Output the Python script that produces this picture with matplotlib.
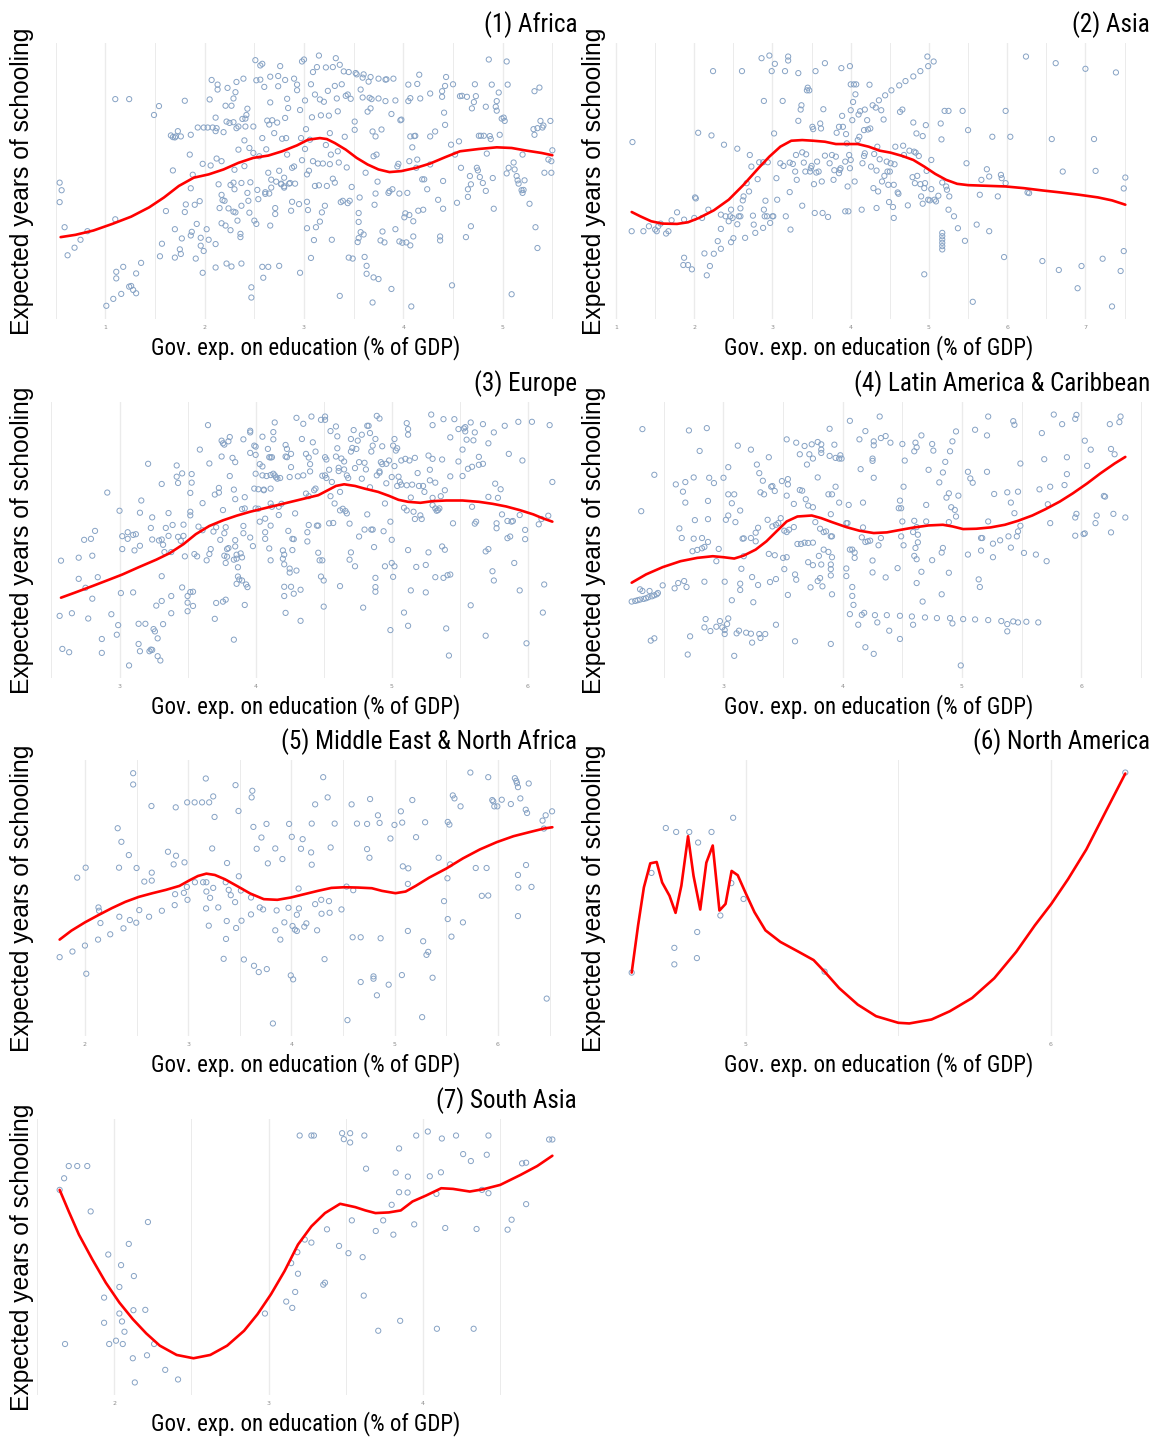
import matplotlib
matplotlib.use("Agg")
import matplotlib.pyplot as plt
from matplotlib import font_manager
from matplotlib.font_manager import FontProperties
from matplotlib.ticker import MultipleLocator, FormatStrFormatter

# ---------------------------------------------------------------
# Country-year observations: (gov. exp. on education % of GDP,
# expected years of schooling) and the loess fit for each region
# ---------------------------------------------------------------
africa_pts = [
    (0.54,13.1),(0.56,12.64),(0.54,11.92),(0.59,10.4),(0.62,8.7),(0.69,9.16),(0.75,9.64),(0.82,10.16),
    (1.01,5.64),(1.08,6.06),(1.11,7.7),(1.11,7.3),(1.16,6.36),(1.18,8.0),(1.24,6.8),(1.26,6.84),
    (1.28,6.6),(1.31,6.4),(1.31,7.6),(1.36,8.24),(1.10,18.16),(1.24,18.16),(1.10,10.88),(1.49,17.2),
    (1.54,17.74),(1.55,8.64),(1.57,9.4),(1.61,11.38),(1.66,15.96),(1.68,15.86),(1.70,15.84),(1.71,15.9),
    (1.73,16.22),(1.76,15.9),(1.68,13.84),(1.70,8.56),(1.70,10.28),(1.75,9.06),(1.76,8.78),(1.77,9.72),
    (1.80,11.32),(1.81,11.78),(1.80,18.06),(1.86,16.0),(1.85,14.8),(1.86,12.76),(1.86,9.9),(1.87,10.12),
    (1.88,13.58),(1.90,11.76),(1.91,8.5),(1.92,10.6),(1.95,11.98),(1.96,9.28),(1.96,9.76),(1.98,7.64),
    (1.99,8.96),(1.98,14.24),(1.93,16.44),(1.99,16.44),(2.03,16.44),(2.04,9.64),(2.02,10.28),(2.05,18.14),
    (2.07,19.32),(2.06,14.14),(2.08,16.44),(2.11,9.38),(2.11,7.96),(2.11,17.04),(2.13,19.04),(2.13,18.74),
    (2.11,16.22),(2.12,14.56),(2.12,16.4),(2.14,13.0),(2.15,11.56),(2.17,12.36),(2.17,14.4),(2.17,10.64),
    (2.18,12.04),(2.19,16.16),(2.20,12.0),(2.21,10.5),(2.21,17.76),(2.22,16.8),(2.22,8.2),(2.23,18.84),
    (2.24,11.54),(2.25,16.72),(2.26,10.22),(2.26,12.96),(2.27,17.76),(2.27,8.02),(2.29,11.34),(2.29,16.76),
    (2.29,18.2),(2.29,13.1),(2.30,13.88),(2.30,12.7),(2.31,11.3),(2.31,18.58),(2.32,19.2),(2.32,16.4),
    (2.33,10.8),(2.34,16.5),(2.34,15.1),(2.36,9.8),(2.36,10.0),(2.37,11.7),(2.37,8.2),(2.37,13.08),
    (2.38,16.96),(2.39,19.4),(2.40,15.66),(2.40,14.1),(2.41,16.98),(2.41,16.5),(2.42,17.2),(2.43,17.58),
    (2.43,12.48),(2.44,12.0),(2.45,11.28),(2.45,15.2),(2.46,13.12),(2.47,6.76),(2.47,6.14),(2.49,14.9),
    (2.49,16.5),(2.50,10.8),(2.51,20.52),(2.52,19.3),(2.52,10.6),(2.53,12.66),(2.54,12.1),(2.55,14.7),
    (2.56,20.2),(2.56,19.34),(2.58,20.3),(2.58,8.0),(2.58,15.8),(2.59,7.34),(2.60,18.9),(2.61,12.52),
    (2.61,12.42),(2.62,15.12),(2.63,16.86),(2.64,8.0),(2.64,13.7),(2.65,12.44),(2.65,16.62),(2.66,19.52),
    (2.66,10.5),(2.66,17.96),(2.67,13.28),(2.67,12.8),(2.68,16.88),(2.70,16.1),(2.71,11.56),(2.71,11.2),
    (2.72,13.16),(2.73,16.74),(2.74,18.94),(2.74,19.56),(2.75,13.82),(2.75,8.06),(2.76,20.16),(2.77,13.0),
    (2.77,13.04),(2.78,15.76),(2.80,12.88),(2.80,13.4),(2.80,12.8),(2.81,17.02),(2.81,19.32),(2.82,15.8),
    (2.83,18.18),(2.83,14.8),(2.84,17.62),(2.85,13.04),(2.86,13.08),(2.87,11.4),(2.88,14.0),(2.88,11.94),
    (2.90,14.08),(2.90,19.4),(2.91,13.04),(2.93,18.7),(2.93,19.04),(2.95,11.8),(2.96,7.64),(2.96,17.5),
    (2.97,15.8),(2.98,14.46),(2.98,20.44),(3.00,20.56),(3.01,15.14),(3.01,18.08),(3.02,16.34),(3.03,13.6),
    (3.03,10.34),(3.03,11.94),(3.04,11.44),(3.05,13.82),(3.06,15.7),(3.07,19.06),(3.07,8.54),(3.08,17.06),
    (3.09,14.4),(3.09,19.8),(3.10,9.62),(3.11,18.44),(3.11,12.9),(3.12,10.4),(3.13,20.1),(3.14,14.26),
    (3.15,20.8),(3.15,12.94),(3.16,18.14),(3.16,10.74),(3.17,17.18),(3.18,11.3),(3.19,14.26),(3.20,18.0),
    (3.21,11.7),(3.22,20.08),(3.22,15.38),(3.23,12.9),(3.24,18.66),(3.25,17.16),(3.26,14.22),(3.26,16.1),
    (3.27,14.8),(3.28,9.64),(3.29,20.1),(3.29,13.34),(3.31,18.96),(3.31,13.1),(3.32,20.64),(3.33,18.2),
    (3.34,15.0),(3.34,17.42),(3.35,14.32),(3.36,20.24),(3.36,6.24),(3.37,11.92),(3.38,19.06),(3.39,12.0),
    (3.40,19.84),(3.41,15.88),(3.42,18.36),(3.43,14.02),(3.44,18.44),(3.44,11.86),(3.45,8.56),(3.45,19.8),
    (3.46,12.0),(3.47,18.18),(3.48,12.84),(3.49,8.5),(3.51,16.8),(3.51,16.3),(3.52,19.74),(3.53,19.66),
    (3.54,9.5),(3.55,11.26),(3.55,10.72),(3.55,9.74),(3.56,12.2),(3.57,10.1),(3.57,18.74),(3.59,18.26),
    (3.59,19.46),(3.60,9.96),(3.60,19.66),(3.61,8.6),(3.62,13.7),(3.63,8.06),(3.63,7.58),(3.64,17.4),
    (3.65,19.22),(3.66,18.24),(3.67,17.6),(3.67,19.5),(3.68,18.16),(3.69,5.84),(3.69,16.2),(3.70,14.7),
    (3.70,7.36),(3.71,11.76),(3.72,15.9),(3.72,12.44),(3.73,14.8),(3.74,13.16),(3.75,7.26),(3.75,19.4),
    (3.75,18.2),(3.77,9.6),(3.78,16.32),(3.79,10.14),(3.81,9.48),(3.82,18.04),(3.82,19.34),(3.83,19.36),
    (3.85,12.48),(3.86,12.58),(3.88,17.26),(3.88,6.66),(3.89,12.7),(3.90,19.4),(3.92,18.08),(3.92,10.28),
    (3.94,14.08),(3.95,14.24),(3.96,9.54),(3.96,12.44),(3.97,16.88),(3.98,16.92),(3.99,9.46),(4.01,11.0),
    (4.02,11.24),(4.03,9.48),(4.04,12.48),(4.05,18.04),(4.05,19.04),(4.06,14.4),(4.06,11.14),(4.07,18.22),
    (4.07,9.3),(4.07,15.9),(4.08,5.6),(4.09,15.24),(4.10,10.76),(4.10,9.84),(4.11,15.92),(4.12,15.94),
    (4.13,14.0),(4.14,19.08),(4.14,14.5),(4.15,11.4),(4.16,19.64),(4.17,18.2),(4.19,13.3),(4.20,11.46),
    (4.21,13.3),(4.24,12.7),(4.27,15.9),(4.27,18.5),(4.27,14.2),(4.32,16.2),(4.35,12.06),(4.37,9.6),
    (4.37,9.84),(4.39,18.64),(4.39,18.3),(4.40,11.52),(4.40,13.2),(4.41,17.34),(4.42,16.6),(4.42,18.96),
    (4.43,19.5),(4.48,15.4),(4.49,6.88),(4.50,19.06),(4.52,14.8),(4.54,11.88),(4.56,15.6),(4.57,18.34),
    (4.58,14.0),(4.59,18.36),(4.63,9.8),(4.64,18.3),(4.65,12.7),(4.65,12.24),(4.67,13.5),(4.68,13.0),
    (4.68,10.46),(4.69,17.6),(4.71,17.98),(4.72,19.06),(4.73,18.34),(4.74,14.0),(4.75,13.84),(4.76,15.94),
    (4.77,13.44),(4.78,15.94),(4.80,13.08),(4.81,15.94),(4.83,12.6),(4.83,17.7),(4.84,14.86),(4.86,20.56),
    (4.87,15.92),(4.88,15.74),(4.89,19.04),(4.90,13.38),(4.91,11.52),(4.93,17.7),(4.94,17.46),(4.94,18.04),
    (4.96,18.56),(4.97,16.0),(4.99,16.98),(5.01,17.04),(5.02,16.84),(5.04,20.44),(5.05,19.04),(5.04,13.66),
    (5.06,14.0),(5.09,6.34),(5.11,14.32),(5.12,13.9),(5.14,13.5),(5.15,13.24),(5.16,13.04),(5.19,12.64),
    (5.20,12.48),(5.20,14.8),(5.21,12.66),(5.22,13.24),(5.27,11.82),(5.31,16.34),(5.32,16.0),(5.32,18.64),
    (5.33,10.4),(5.35,16.4),(5.35,9.14),(5.37,18.86),(5.38,16.84),(5.40,16.44),(5.41,16.56),(5.42,13.7),
    (5.46,14.5),(5.48,16.84),(5.49,14.4),(5.50,15.06),(5.49,13.7),
]
africa_fit = [
    (0.55,9.8),(0.70,9.94),(0.88,10.2),(1.07,10.6),(1.26,11.04),(1.44,11.6),(1.59,12.2),(1.74,12.9),
    (1.89,13.4),(2.04,13.6),(2.19,13.9),(2.34,14.3),(2.49,14.6),(2.64,14.74),(2.78,15.0),(2.93,15.36),
    (3.04,15.7),(3.16,15.8),(3.23,15.74),(3.31,15.5),(3.42,15.1),(3.53,14.6),(3.64,14.2),(3.75,13.9),
    (3.86,13.74),(3.98,13.8),(4.13,14.0),(4.27,14.26),(4.42,14.64),(4.57,15.0),(4.76,15.14),(4.94,15.24),
    (5.09,15.2),(5.24,15.04),(5.39,14.9),(5.50,14.76),
]

asia_pts = [
    (1.21,15.48),(1.20,10.1),(1.35,10.1),(1.42,10.4),(1.50,10.2),(1.52,10.1),(1.54,10.4),(1.57,10.56),
    (1.64,9.96),(1.67,10.1),(1.71,10.76),(1.78,11.24),(1.87,8.5),(1.86,8.06),(1.92,8.06),(1.97,7.8),
    (1.87,10.8),(2.00,10.9),(2.01,12.14),(2.02,12.08),(2.05,16.04),(2.10,10.9),(2.13,8.76),(2.18,11.4),
    (2.20,8.0),(2.16,7.44),(2.22,15.88),(2.24,19.76),(2.25,8.74),(2.30,9.5),(2.34,10.24),(2.34,9.04),
    (2.34,11.1),(2.38,15.32),(2.40,11.0),(2.44,10.7),(2.46,11.0),(2.47,11.4),(2.47,9.44),(2.50,9.68),
    (2.49,10.9),(2.55,10.52),(2.55,15.08),(2.57,11.0),(2.59,11.0),(2.59,11.48),(2.61,19.76),(2.62,11.96),
    (2.63,12.2),(2.65,9.7),(2.67,13.0),(2.70,12.5),(2.71,14.7),(2.73,14.0),(2.75,11.04),(2.76,10.5),
    (2.78,10.0),(2.81,13.24),(2.83,14.26),(2.86,20.54),(2.89,17.96),(2.88,14.26),(2.88,10.3),(2.89,11.4),
    (2.90,11.0),(2.91,11.94),(2.93,11.0),(2.94,14.26),(2.96,20.7),(2.97,10.6),(2.99,19.76),(3.00,11.0),
    (3.01,11.0),(3.02,16.0),(3.03,20.2),(3.05,13.3),(3.06,12.0),(3.10,14.2),(3.13,17.96),(3.14,14.04),
    (3.16,19.76),(3.17,11.0),(3.20,20.4),(3.20,20.64),(3.22,14.24),(3.22,12.46),(3.23,10.2),(3.26,14.16),
    (3.29,13.7),(3.30,14.7),(3.31,13.2),(3.33,19.64),(3.33,16.76),(3.36,17.44),(3.37,17.7),(3.38,14.86),
    (3.38,11.64),(3.40,14.24),(3.42,13.7),(3.43,14.74),(3.44,18.6),(3.45,18.76),(3.47,18.6),(3.48,13.7),
    (3.49,13.9),(3.50,14.04),(3.51,16.4),(3.52,16.26),(3.53,12.94),(3.54,11.2),(3.55,19.76),(3.56,13.64),
    (3.57,14.3),(3.59,13.7),(3.61,16.6),(3.62,16.3),(3.63,13.1),(3.64,11.2),(3.65,17.46),(3.67,20.24),
    (3.67,14.66),(3.71,10.96),(3.73,14.2),(3.76,14.7),(3.78,13.2),(3.79,13.78),(3.81,14.6),(3.82,16.04),
    (3.85,16.4),(3.85,13.6),(3.86,13.8),(3.87,13.9),(3.88,19.94),(3.89,17.06),(3.90,16.4),(3.93,14.3),
    (3.93,11.3),(3.94,15.96),(3.95,15.4),(3.96,12.8),(3.97,11.3),(3.98,14.7),(3.99,20.06),(3.99,13.9),
    (4.00,14.4),(4.00,17.4),(4.00,18.96),(4.02,16.8),(4.03,17.9),(4.04,18.96),(4.05,13.1),(4.06,18.36),
    (4.07,18.96),(4.09,15.6),(4.10,17.14),(4.11,15.8),(4.12,17.34),(4.14,11.4),(4.15,14.2),(4.17,16.2),
    (4.17,14.64),(4.18,17.44),(4.18,14.8),(4.21,16.8),(4.22,16.24),(4.24,18.94),(4.25,16.3),(4.26,14.0),
    (4.28,17.7),(4.29,12.7),(4.30,14.76),(4.32,17.56),(4.33,11.5),(4.33,13.76),(4.34,15.2),(4.35,12.5),
    (4.36,18.0),(4.37,14.44),(4.39,17.4),(4.40,13.1),(4.42,16.84),(4.43,13.44),(4.44,18.3),(4.46,14.3),
    (4.47,13.7),(4.48,12.9),(4.49,11.86),(4.50,13.7),(4.51,14.2),(4.52,18.6),(4.54,11.56),(4.55,10.9),
    (4.55,12.9),(4.56,14.14),(4.57,15.2),(4.60,12.44),(4.61,12.36),(4.62,18.9),(4.63,17.3),(4.66,17.44),
    (4.67,15.26),(4.68,14.7),(4.70,19.16),(4.73,11.66),(4.75,14.96),(4.79,13.36),(4.80,19.44),(4.80,16.66),
    (4.81,14.9),(4.82,13.0),(4.83,14.84),(4.84,16.0),(4.85,13.44),(4.87,14.64),(4.89,19.76),(4.89,12.94),
    (4.90,12.2),(4.92,15.84),(4.92,11.76),(4.94,12.7),(4.95,13.0),(4.96,16.5),(4.97,13.74),(4.98,20.64),
    (4.99,12.0),(4.99,20.06),(5.01,11.96),(5.03,14.4),(5.03,12.64),(5.06,20.34),(5.07,12.0),(5.09,11.9),
    (5.12,12.24),(5.15,16.6),(5.16,15.64),(5.17,13.04),(5.17,10.0),(5.17,9.8),(5.17,9.6),(5.17,9.4),
    (5.17,9.2),(5.17,9.0),(5.20,17.36),(5.22,12.8),(5.23,12.6),(5.25,17.36),(5.25,11.4),(5.26,12.2),
    (5.32,11.0),(5.37,10.28),(5.43,17.36),(5.46,9.52),(5.48,14.2),(5.50,16.2),(5.61,10.5),(5.65,12.3),
    (5.67,13.2),(5.74,13.84),(5.77,13.4),(5.77,10.1),(5.81,15.8),(5.88,12.2),(5.92,13.5),(5.93,13.3),
    (5.96,8.54),(5.98,13.0),(5.98,17.36),(6.04,15.8),(6.24,20.64),(6.26,12.44),(6.28,12.4),(6.45,8.3),
    (6.57,15.66),(6.62,20.24),(6.66,7.76),(6.71,13.7),(6.90,6.66),(6.95,8.0),(7.00,19.9),(7.11,15.66),
    (7.13,13.74),(7.22,8.44),(7.34,5.56),(7.39,19.68),(7.45,7.7),(7.49,8.9),(7.49,12.68),(7.51,13.34),
    (4.94,7.5),(5.56,5.84),
]
asia_fit = [
    (1.20,11.26),(1.31,11.0),(1.45,10.7),(1.59,10.56),(1.78,10.54),(1.92,10.64),(2.06,10.9),(2.25,11.36),
    (2.44,12.0),(2.63,12.9),(2.82,13.9),(2.96,14.6),(3.10,15.2),(3.24,15.56),(3.38,15.6),(3.52,15.56),
    (3.67,15.5),(3.81,15.36),(3.95,15.36),(4.09,15.36),(4.23,15.2),(4.37,14.96),(4.51,14.84),(4.66,14.64),
    (4.80,14.4),(4.94,14.0),(5.08,13.56),(5.22,13.2),(5.36,12.96),(5.50,12.88),(5.74,12.84),(5.98,12.8),
    (6.21,12.7),(6.45,12.56),(6.68,12.44),(6.92,12.3),(7.16,12.14),(7.34,11.96),(7.51,11.7),
]

europe_pts = [
    (2.57,11.04),(2.56,7.7),(2.58,5.7),(2.63,5.5),(2.65,7.86),(2.70,11.22),(2.70,9.94),(2.74,12.3),
    (2.75,9.4),(2.77,7.54),(2.79,12.36),(2.80,8.74),(2.80,11.34),(2.82,12.84),(2.84,10.04),(2.87,6.3),
    (2.87,5.46),(2.91,15.16),(2.94,7.8),(2.98,6.56),(2.99,7.14),(3.00,14.06),(3.01,9.08),(3.02,11.74),
    (3.02,12.52),(3.06,12.76),(3.06,12.36),(3.07,4.7),(3.10,9.12),(3.11,11.66),(3.12,12.64),(3.10,12.6),
    (3.14,6.0),(3.15,5.56),(3.14,7.22),(3.15,11.94),(3.15,13.94),(3.16,14.68),(3.19,7.22),(3.21,16.9),
    (3.22,5.56),(3.23,5.66),(3.24,5.64),(3.28,5.26),(3.30,5.0),(3.25,6.9),(3.26,6.76),(3.28,6.34),
    (3.27,8.32),(3.31,8.6),(3.32,7.2),(3.31,10.1),(3.31,15.68),(3.23,13.02),(3.24,12.32),(3.24,13.66),
    (3.29,12.26),(3.31,12.32),(3.32,12.0),(3.33,11.56),(3.34,13.02),(3.36,12.54),(3.36,13.92),(3.38,11.56),
    (3.39,13.2),(3.38,8.9),(3.38,7.86),(3.42,16.8),(3.42,16.12),(3.43,15.74),(3.46,16.32),(3.46,9.42),
    (3.43,12.48),(3.45,12.24),(3.47,12.54),(3.47,13.22),(3.48,11.3),(3.50,8.5),(3.50,7.98),(3.50,8.9),
    (3.52,9.14),(3.54,9.16),(3.54,8.3),(3.52,14.0),(3.52,13.78),(3.52,15.14),(3.53,16.28),(3.53,15.76),
    (3.55,11.44),(3.57,11.3),(3.58,13.1),(3.59,17.76),(3.61,14.52),(3.61,12.88),(3.64,11.06),(3.65,19.24),
    (3.66,16.92),(3.66,11.44),(3.67,11.74),(3.69,12.8),(3.70,15.04),(3.70,7.52),(3.71,8.48),(3.71,13.06),
    (3.73,15.44),(3.73,15.16),(3.74,12.3),(3.75,17.34),(3.75,18.3),(3.76,18.14),(3.77,18.06),(3.80,18.26),
    (3.81,18.52),(3.76,14.1),(3.77,12.7),(3.78,13.06),(3.79,11.28),(3.78,10.9),(3.77,11.34),(3.76,8.56),
    (3.78,8.68),(3.79,11.74),(3.80,11.8),(3.81,16.16),(3.83,17.26),(3.84,11.1),(3.84,6.26),(3.85,17.0),
    (3.84,15.34),(3.85,14.76),(3.85,12.28),(3.85,11.9),(3.86,11.4),(3.86,11.16),(3.87,10.64),(3.87,10.08),
    (3.86,9.64),(3.88,9.9),(3.90,9.84),(3.89,11.48),(3.90,11.24),(3.91,12.7),(3.90,14.16),(3.92,14.88),
    (3.92,14.2),(3.91,13.14),(3.93,9.6),(3.92,8.36),(3.94,9.44),(3.96,12.44),(3.96,17.56),(3.96,18.9),
    (3.96,18.8),(3.91,18.38),(3.98,11.92),(3.99,18.0),(4.00,17.94),(4.00,17.44),(3.99,15.4),(4.00,14.2),
    (4.00,16.3),(4.02,15.36),(4.02,14.18),(4.03,13.4),(4.03,16.88),(4.05,18.54),(4.05,16.74),(4.05,16.2),
    (4.06,15.34),(4.06,15.3),(4.07,13.58),(4.07,12.76),(4.07,12.36),(4.08,16.16),(4.09,17.8),(4.10,17.3),
    (4.10,11.78),(4.11,17.28),(4.12,17.3),(4.11,16.22),(4.11,15.4),(4.11,14.5),(4.11,13.16),(4.12,14.3),
    (4.11,11.06),(4.13,18.38),(4.13,18.82),(4.13,16.3),(4.14,16.2),(4.14,19.4),(4.15,16.08),(4.16,16.0),
    (4.17,14.3),(4.17,13.8),(4.18,16.04),(4.19,14.48),(4.20,11.66),(4.20,11.16),(4.21,9.46),(4.21,8.9),
    (4.21,11.4),(4.21,10.82),(4.22,18.04),(4.22,17.34),(4.22,7.88),(4.23,17.8),(4.23,17.3),(4.24,12.84),
    (4.25,10.32),(4.25,16.1),(4.26,17.5),(4.26,16.7),(4.25,10.56),(4.26,9.46),(4.27,12.36),(4.27,11.68),
    (4.28,12.34),(4.28,9.04),(4.29,13.9),(4.30,19.68),(4.30,10.44),(4.31,16.14),(4.33,7.4),(4.33,9.28),
    (4.34,18.4),(4.35,19.32),(4.35,16.2),(4.37,15.1),(4.37,17.5),(4.38,12.2),(4.38,12.76),(4.39,17.28),
    (4.39,14.94),(4.39,13.2),(4.40,16.88),(4.40,16.44),(4.41,19.76),(4.42,18.2),(4.43,15.3),(4.44,17.64),
    (4.44,15.4),(4.45,13.16),(4.46,13.16),(4.46,11.52),(4.47,11.06),(4.48,10.08),(4.48,19.56),(4.49,16.18),
    (4.49,11.06),(4.50,9.84),(4.50,8.26),(4.51,16.2),(4.51,17.3),(4.51,19.76),(4.51,19.56),(4.52,17.16),
    (4.52,16.04),(4.54,16.54),(4.54,13.3),(4.55,18.88),(4.55,14.94),(4.56,15.8),(4.57,13.32),(4.58,14.5),
    (4.59,17.34),(4.59,19.16),(4.60,18.56),(4.60,17.84),(4.61,16.66),(4.61,16.46),(4.62,14.08),(4.62,9.5),
    (4.62,15.2),(4.63,17.22),(4.64,14.18),(4.65,16.56),(4.65,17.04),(4.66,14.04),(4.67,16.2),(4.67,13.9),
    (4.68,16.04),(4.69,11.1),(4.69,13.28),(4.70,17.64),(4.70,11.54),(4.70,18.4),(4.71,17.86),(4.72,18.94),
    (4.73,10.7),(4.73,16.64),(4.74,17.8),(4.75,18.3),(4.76,12.5),(4.76,17.0),(4.78,16.0),(4.78,18.66),
    (4.79,8.2),(4.80,16.96),(4.80,12.92),(4.81,16.56),(4.82,13.84),(4.82,19.2),(4.83,19.2),(4.84,15.48),
    (4.84,18.76),(4.85,12.92),(4.85,17.64),(4.86,18.0),(4.86,12.92),(4.87,11.86),(4.88,10.0),(4.88,18.4),
    (4.88,9.44),(4.88,9.16),(4.89,19.8),(4.91,19.64),(4.89,16.2),(4.91,16.44),(4.91,16.36),(4.92,17.0),
    (4.93,16.88),(4.93,17.96),(4.94,12.82),(4.95,10.7),(4.95,14.5),(4.96,15.72),(4.96,16.9),(4.98,17.1),
    (4.99,13.4),(4.99,6.84),(5.00,10.9),(5.00,12.3),(5.00,16.1),(5.01,18.0),(5.02,10.7),(5.01,10.06),
    (5.02,16.76),(5.02,18.4),(5.03,17.7),(5.04,15.56),(5.04,17.84),(5.05,16.12),(5.06,15.8),(5.07,15.64),
    (5.07,17.1),(5.09,14.24),(5.09,7.9),(5.10,17.2),(5.11,19.36),(5.12,19.0),(5.12,18.66),(5.11,15.6),
    (5.11,14.08),(5.12,7.1),(5.12,11.68),(5.13,17.1),(5.14,14.86),(5.14,9.24),(5.15,15.64),(5.16,14.0),
    (5.17,17.26),(5.17,13.56),(5.18,10.66),(5.19,16.34),(5.20,15.56),(5.21,13.78),(5.22,13.56),(5.23,15.56),
    (5.24,15.2),(5.25,10.78),(5.25,9.12),(5.27,11.54),(5.27,17.4),(5.28,16.54),(5.28,15.9),(5.29,19.88),
    (5.30,17.2),(5.30,19.24),(5.30,14.84),(5.30,14.4),(5.32,15.76),(5.32,10.04),(5.32,14.2),(5.33,14.06),
    (5.34,14.1),(5.35,14.2),(5.36,14.94),(5.37,11.9),(5.37,17.16),(5.38,10.0),(5.39,11.7),(5.39,15.3),
    (5.40,6.94),(5.41,10.16),(5.42,5.3),(5.43,10.2),(5.43,18.5),(5.43,16.14),(5.38,19.6),(5.46,19.6),
    (5.45,13.3),(5.49,17.04),(5.49,19.0),(5.52,16.16),(5.52,17.76),(5.53,19.04),(5.54,19.12),(5.54,18.86),
    (5.55,18.36),(5.56,16.6),(5.58,19.4),(5.59,16.72),(5.60,18.32),(5.61,18.8),(5.58,8.34),(5.59,14.3),
    (5.61,13.28),(5.62,13.4),(5.64,16.84),(5.64,17.32),(5.67,16.9),(5.67,19.3),(5.69,11.6),(5.69,6.5),
    (5.71,11.74),(5.71,14.9),(5.71,18.14),(5.74,10.4),(5.75,9.84),(5.76,15.7),(5.75,18.8),(5.77,13.3),
    (5.77,13.0),(5.78,14.84),(5.80,15.36),(5.81,13.84),(5.83,19.2),(5.85,13.44),(5.85,12.4),(5.86,17.5),
    (5.87,12.5),(5.88,13.4),(5.89,13.44),(5.90,10.9),(5.93,19.44),(5.94,9.24),(5.94,13.8),(5.96,17.1),
    (5.98,12.34),(5.98,12.9),(5.99,6.04),(6.03,19.44),(6.08,13.24),(6.10,13.56),(6.11,7.9),(6.12,9.6),
    (6.15,13.76),(6.16,19.24),(6.18,15.8),
]
europe_fit = [
    (2.57,8.8),(2.67,9.1),(2.80,9.5),(2.92,9.88),(3.02,10.2),(3.14,10.64),(3.27,11.1),(3.37,11.5),
    (3.47,12.04),(3.56,12.64),(3.66,13.14),(3.76,13.48),(3.86,13.76),(3.96,14.0),(4.06,14.2),(4.16,14.4),
    (4.26,14.6),(4.36,14.8),(4.46,15.0),(4.53,15.3),(4.59,15.56),(4.65,15.66),(4.73,15.56),(4.80,15.4),
    (4.90,15.2),(4.98,14.96),(5.05,14.72),(5.12,14.6),(5.21,14.54),(5.30,14.64),(5.40,14.68),(5.52,14.68),
    (5.64,14.6),(5.74,14.48),(5.84,14.32),(5.94,14.1),(6.04,13.84),(6.11,13.6),(6.18,13.4),
]

latam_pts = [
    (2.32,18.98),(2.42,16.22),(2.31,14.02),(2.23,8.56),(2.26,8.6),(2.28,8.64),(2.30,8.68),(2.33,8.72),
    (2.35,8.76),(2.37,8.82),(2.40,8.88),(2.42,8.94),(2.44,9.0),(2.45,9.08),(2.30,9.3),(2.32,9.2),
    (2.38,9.2),(2.49,9.54),(2.39,6.2),(2.42,6.34),(2.71,18.9),(2.86,19.04),(2.80,17.66),(2.60,15.64),
    (2.68,15.78),(2.66,15.2),(2.68,14.54),(2.75,16.06),(2.88,16.04),(2.92,15.72),(2.87,14.64),(3.00,16.04),
    (3.04,16.68),(3.12,17.98),(3.23,17.74),(2.63,12.98),(2.65,12.4),(2.75,12.36),(2.76,13.48),(2.87,13.54),
    (2.82,12.4),(2.87,12.16),(2.74,11.6),(2.78,11.68),(2.82,11.78),(2.84,11.86),(2.96,11.74),(2.94,11.0),
    (2.62,9.68),(2.67,9.8),(2.69,9.44),(2.59,9.36),(2.84,9.76),(2.85,7.5),(2.84,7.0),(2.89,6.78),
    (2.94,7.04),(2.97,7.38),(2.99,7.0),(3.01,6.6),(3.03,7.2),(3.04,7.54),(3.01,6.84),(3.11,6.64),
    (3.13,6.8),(3.19,6.68),(3.23,6.62),(3.24,6.08),(3.30,6.6),(3.31,6.36),(3.35,6.6),(3.44,7.16),
    (2.72,6.46),(2.70,5.36),(3.09,5.28),(3.01,9.76),(3.07,8.64),(3.14,9.64),(3.14,9.26),(3.24,10.04),
    (3.25,8.52),(3.29,9.56),(3.39,9.74),(3.44,9.92),(3.15,10.54),(3.17,11.3),(3.04,15.04),(3.09,15.04),
    (3.07,14.5),(3.14,14.06),(3.02,13.5),(3.04,13.76),(3.10,13.36),(3.16,12.36),(3.17,12.38),(3.23,12.4),
    (3.27,12.72),(3.29,13.02),(3.27,12.2),(3.28,16.84),(3.30,16.32),(3.33,15.86),(3.38,17.28),(3.31,15.16),
    (3.34,15.04),(3.40,15.5),(3.41,15.54),(3.43,15.24),(3.49,15.84),(3.54,15.96),(3.54,15.64),(3.53,14.96),
    (3.37,13.5),(3.41,13.1),(3.44,13.2),(3.46,13.3),(3.48,13.6),(3.38,11.44),(3.43,11.36),(3.50,11.2),
    (3.53,11.24),(3.51,10.52),(3.54,8.96),(3.60,10.2),(3.61,9.88),(3.60,6.16),(3.53,18.36),(3.61,18.16),
    (3.64,17.46),(3.68,17.96),(3.72,17.46),(3.74,18.06),(3.75,17.2),(3.79,18.2),(3.82,18.06),(3.82,17.74),
    (3.82,17.54),(3.79,16.06),(3.70,16.84),(3.69,14.74),(3.75,14.26),(3.59,14.46),(3.64,15.3),(3.66,15.26),
    (3.71,14.36),(3.51,12.84),(3.53,12.76),(3.55,12.9),(3.59,13.06),(3.62,12.04),(3.65,12.04),(3.68,12.12),
    (3.71,12.1),(3.75,12.12),(3.77,13.36),(3.81,12.96),(3.84,12.76),(3.86,12.8),(3.90,12.5),(3.91,12.5),
    (3.84,11.7),(3.88,11.56),(3.80,11.32),(3.82,10.8),(3.91,11.24),(3.90,10.8),(3.90,10.52),(3.90,10.14),
    (3.81,9.98),(3.83,9.48),(3.73,9.42),(3.71,10.94),(3.75,10.76),(3.79,9.8),(3.91,9.0),(3.90,6.0),
    (3.89,19.0),(3.93,18.04),(3.89,17.36),(3.94,17.24),(3.97,17.2),(3.99,17.2),(3.98,17.4),(3.94,15.5),
    (3.88,15.04),(3.91,15.04),(3.90,13.84),(3.97,14.54),(4.05,14.4),(4.03,13.3),(4.03,10.56),(4.03,10.1),
    (4.06,11.7),(4.08,11.7),(4.10,11.52),(4.10,11.2),(4.08,9.44),(4.08,8.9),(4.09,8.36),(4.06,7.8),
    (4.13,7.16),(4.16,7.76),(4.18,7.88),(4.19,5.8),(4.26,5.4),(4.29,7.3),(4.27,7.74),(4.37,7.74),
    (4.39,6.8),(4.48,7.7),(4.48,6.3),(4.58,7.66),(4.59,7.16),(4.69,7.6),(4.79,7.56),(4.90,7.56),
    (4.92,7.24),(5.01,7.5),(5.11,7.48),(5.22,7.44),(5.33,7.38),(5.38,7.2),(5.38,6.76),(5.43,7.36),
    (5.47,7.3),(5.54,7.34),(5.64,7.3),(4.99,4.7),(4.06,19.48),(4.31,19.74),(4.14,18.36),(4.19,18.86),
    (4.26,18.24),(4.26,18.0),(4.32,18.44),(4.36,18.56),(4.40,18.16),(4.50,18.08),(4.52,17.08),(4.25,17.2),
    (4.25,17.06),(4.15,16.56),(4.26,16.04),(4.17,14.54),(4.04,13.3),(4.17,13.04),(4.16,12.44),(4.19,12.16),
    (4.21,12.2),(4.23,12.24),(4.25,11.04),(4.30,11.96),(4.32,12.4),(4.25,10.32),(4.36,10.02),(4.46,10.58),
    (4.51,15.5),(4.48,14.66),(4.47,14.2),(4.49,14.2),(4.50,13.4),(4.49,12.5),(4.51,11.96),(4.60,13.44),
    (4.59,12.76),(4.62,13.06),(4.63,12.6),(4.63,12.14),(4.61,11.8),(4.62,11.12),(4.60,11.32),(4.66,10.36),
    (4.62,9.68),(4.67,8.56),(4.70,13.4),(4.70,14.4),(4.61,18.16),(4.60,17.64),(4.62,17.88),(4.66,18.6),
    (4.75,18.08),(4.76,17.68),(4.72,16.52),(4.84,16.36),(4.81,15.76),(4.86,17.0),(4.90,17.64),(4.92,18.24),
    (4.95,18.84),(4.89,15.1),(4.87,14.84),(4.97,14.96),(4.91,14.26),(4.94,14.1),(4.95,13.7),(4.89,13.36),
    (4.84,11.8),(4.83,11.52),(4.75,11.06),(4.89,10.3),(4.83,9.0),(5.11,18.94),(5.22,19.74),(5.21,18.6),
    (5.21,16.4),(5.05,16.4),(5.07,16.0),(5.09,15.74),(5.27,15.06),(5.38,15.16),(5.41,14.54),(5.47,15.2),
    (5.44,13.9),(5.49,13.14),(5.47,12.8),(5.46,12.5),(5.41,11.82),(5.39,12.5),(5.32,12.26),(5.26,12.06),
    (5.16,12.4),(5.17,12.4),(5.22,13.4),(5.16,11.64),(5.26,11.24),(5.05,11.4),(5.14,9.9),(5.15,9.44),
    (5.52,11.5),(5.62,11.4),(5.71,11.0),(5.43,19.46),(5.44,19.24),(5.49,16.9),(5.67,18.74),(5.69,17.16),
    (5.77,19.86),(5.84,19.28),(5.88,17.28),(5.88,16.26),(5.86,15.6),(5.74,15.5),(5.65,15.34),(5.72,14.44),
    (5.74,13.3),(5.96,19.84),(5.95,19.6),(6.03,18.28),(6.08,17.74),(6.05,16.76),(5.96,13.86),(5.95,13.64),
    (5.95,12.54),(6.02,12.64),(6.03,12.68),(6.12,13.3),(6.13,13.76),(6.20,14.9),(6.19,14.94),(6.27,13.86),
    (6.25,12.74),(6.37,13.64),(6.25,17.78),(6.28,17.46),(6.24,19.28),(6.32,19.4),(6.33,19.74),
]
latam_fit = [
    (2.23,9.7),(2.35,10.2),(2.49,10.64),(2.64,11.0),(2.78,11.2),(2.91,11.3),(3.00,11.24),(3.09,11.16),
    (3.17,11.34),(3.27,11.7),(3.36,12.2),(3.45,12.84),(3.53,13.4),(3.62,13.7),(3.74,13.76),(3.82,13.6),
    (3.91,13.36),(4.03,13.06),(4.14,12.84),(4.26,12.7),(4.37,12.74),(4.49,12.9),(4.60,13.04),(4.72,13.16),
    (4.84,13.2),(4.92,13.1),(5.01,12.94),(5.12,12.96),(5.24,13.04),(5.36,13.2),(5.47,13.44),(5.59,13.76),
    (5.70,14.14),(5.82,14.6),(5.93,15.1),(6.05,15.7),(6.16,16.3),(6.28,16.9),(6.37,17.3),
]

mena_pts = [
    (1.755,8.8),(1.879,9.14),(2.000,9.5),(2.013,7.8),(1.925,13.6),(2.007,14.2),(2.131,11.8),(2.137,11.6),
    (2.150,10.86),(2.127,9.86),(2.245,10.18),(2.333,11.24),(2.373,10.54),(2.317,16.58),(2.353,15.76),(2.330,14.2),
    (2.425,14.96),(2.500,14.18),(2.435,11.04),(2.497,10.88),(2.526,11.64),(2.575,13.36),(2.621,11.24),(2.647,13.9),
    (2.647,13.42),(2.644,17.92),(2.467,19.9),(2.467,19.22),(2.745,11.6),(2.804,15.16),(2.859,14.4),(2.882,14.92),
    (2.879,17.84),(2.869,11.94),(2.873,12.6),(2.964,14.52),(2.958,12.68),(2.987,13.04),(2.993,12.26),(2.990,18.14),
    (3.062,18.14),(3.134,18.14),(3.203,18.14),(3.242,18.5),(3.170,19.58),(3.255,17.26),(3.232,15.36),(3.065,13.32),
    (3.144,13.32),(3.176,13.32),(3.176,12.76),(3.212,12.38),(3.242,12.98),(3.173,11.74),(3.199,10.7),(3.291,11.8),
    (3.376,14.48),(3.363,13.32),(3.392,12.86),(3.412,12.54),(3.454,12.12),(3.373,10.98),(3.366,9.9),(3.343,8.7),
    (3.464,10.56),(3.458,19.18),(3.487,17.62),(3.490,13.68),(3.510,12.82),(3.516,11.0),(3.539,8.66),(3.608,12.4),
    (3.608,11.38),(3.614,18.44),(3.621,18.84),(3.631,16.66),(3.637,8.28),(3.663,15.34),(3.683,7.9),(3.693,11.8),
    (3.709,16.02),(3.725,11.68),(3.758,16.84),(3.761,8.08),(3.771,14.46),(3.820,4.8),(3.843,15.36),(3.843,10.42),
    (3.856,11.62),(3.892,9.86),(3.912,14.72),(3.931,10.9),(3.971,11.78),(3.977,16.84),(3.993,7.7),(4.003,16.06),
    (4.010,10.68),(4.016,7.46),(4.033,10.46),(4.052,10.38),(4.052,11.36),(4.069,12.94),(4.072,11.74),(4.092,15.34),
    (4.108,15.92),(4.124,10.64),(4.144,10.84),(4.190,15.12),(4.196,14.38),(4.196,16.86),(4.229,12.0),(4.229,18.02),
    (4.248,10.42),(4.288,12.26),(4.291,11.42),(4.307,19.66),(4.320,8.68),(4.350,18.44),(4.363,12.18),(4.369,11.48),
    (4.379,15.42),(4.418,16.86),(4.484,11.68),(4.533,13.06),(4.542,5.0),(4.582,18.02),(4.592,10.0),(4.598,12.84),
    (4.634,16.86),(4.670,10.0),(4.670,7.3),(4.732,16.84),(4.732,15.32),(4.755,14.8),(4.761,18.34),(4.794,7.64),
    (4.794,7.5),(4.827,6.5),(4.837,17.36),(4.853,16.9),(4.863,9.94),(4.941,7.14),(4.958,15.96),(4.997,16.78),
    (5.059,17.6),(5.072,16.92),(5.069,7.72),(5.078,14.28),(5.131,14.16),(5.127,13.22),(5.127,10.38),(5.170,18.28),
    (5.206,16.04),(5.265,5.18),(5.275,9.76),(5.294,16.94),(5.307,8.94),(5.324,9.12),(5.366,7.56),(5.425,14.8),
    (5.477,12.18),(5.513,16.96),(5.529,16.8),(5.510,13.56),(5.513,11.1),(5.536,14.4),(5.549,10.04),(5.562,18.56),
    (5.578,18.38),(5.637,17.9),(5.660,10.9),(5.732,19.94),(5.784,14.18),(5.843,12.5),(5.889,14.18),(5.905,12.52),
    (5.905,19.66),(5.944,18.28),(5.954,18.2),(5.964,17.9),(5.993,17.9),(6.036,18.3),(6.124,18.04),(6.163,19.6),
    (6.176,19.44),(6.183,19.3),(6.193,19.06),(6.216,18.38),(6.193,13.76),(6.196,13.0),(6.193,11.28),(6.271,14.36),
    (6.268,17.7),(6.281,17.5),(6.297,19.28),(6.324,13.04),(6.431,17.04),(6.444,16.56),(6.461,17.36),(6.523,17.6),
    (6.471,6.3),
]
mena_fit = [
    (1.755,9.86),(1.869,10.4),(2.000,10.9),(2.131,11.34),(2.261,11.76),(2.392,12.14),(2.523,12.44),(2.654,12.66),
    (2.784,12.86),(2.915,13.1),(3.013,13.44),(3.095,13.7),(3.176,13.84),(3.258,13.76),(3.356,13.5),(3.471,13.1),
    (3.601,12.64),(3.732,12.3),(3.863,12.26),(3.993,12.4),(4.124,12.6),(4.255,12.8),(4.386,12.98),(4.516,13.02),
    (4.647,13.0),(4.778,12.96),(4.876,12.8),(5.007,12.66),(5.105,12.76),(5.203,13.1),(5.333,13.6),(5.497,14.14),
    (5.660,14.76),(5.824,15.3),(5.987,15.74),(6.150,16.1),(6.314,16.36),(6.444,16.56),(6.526,16.64),
]

namerica_pts = [
    (4.625,6.94),(4.737,15.7),(4.771,15.46),(4.814,15.46),(4.887,15.46),(4.843,14.82),(4.958,16.32),(4.690,12.98),
    (4.952,12.36),(4.992,11.4),(4.916,10.4),(4.840,9.4),(4.765,8.44),(4.765,7.44),(4.839,7.82),(5.258,7.0),
    (6.245,19.06),
]
namerica_fit = [
    (4.625,6.94),(4.646,9.8),(4.665,12.1),(4.686,13.56),(4.707,13.64),(4.725,12.4),(4.749,11.6),(4.769,10.56),
    (4.788,12.2),(4.810,15.2),(4.828,12.8),(4.850,10.76),(4.870,13.6),(4.891,14.64),(4.913,10.7),(4.933,11.1),
    (4.953,13.1),(4.973,12.84),(4.998,11.8),(5.028,10.6),(5.064,9.5),(5.113,8.8),(5.173,8.2),(5.222,7.7),
    (5.258,7.0),(5.306,6.0),(5.367,5.0),(5.427,4.3),(5.500,3.9),(5.536,3.86),(5.609,4.1),(5.669,4.6),
    (5.742,5.4),(5.815,6.6),(5.887,8.2),(5.948,9.8),(6.002,11.1),(6.057,12.6),(6.117,14.4),(6.178,16.6),
    (6.245,19.0),
]

sasia_pts = [
    (1.646,16.3),(1.675,17.0),(1.705,17.74),(1.760,17.74),(1.825,17.74),(1.847,15.0),(1.681,7.0),(1.961,12.4),
    (2.044,11.76),(2.094,13.04),(2.218,14.36),(2.127,11.1),(2.033,10.44),(1.934,9.8),(2.033,8.84),(2.050,8.36),
    (2.124,9.04),(2.201,9.06),(1.934,8.28),(2.066,7.74),(2.011,7.2),(1.967,7.0),(2.055,7.0),(2.258,7.0),
    (2.120,6.14),(2.212,6.32),(2.330,5.44),(2.413,4.86),(2.133,4.68),(2.976,8.84),(3.114,9.56),(3.153,9.18),
    (3.172,10.14),(3.190,11.24),(3.146,11.88),(3.186,12.54),(3.234,13.3),(3.277,13.12),(3.378,13.92),(3.354,10.58),
    (3.365,10.7),(3.456,12.92),(3.517,12.48),(3.609,12.24),(3.616,9.92),(3.539,14.46),(3.631,17.58),(3.201,19.58),
    (3.277,19.58),(3.293,19.58),(3.476,19.72),(3.487,19.36),(3.528,19.72),(3.528,19.16),(3.620,19.58),(3.694,13.82),
    (3.742,14.46),(3.808,13.6),(3.797,15.4),(3.823,17.34),(3.845,18.8),(3.902,17.1),(3.845,16.16),(3.900,16.14),
    (3.943,14.22),(3.956,19.58),(4.031,19.82),(4.044,17.12),(4.122,19.4),(4.116,17.36),(4.087,16.06),(4.144,14.0),
    (4.214,19.58),(4.260,18.46),(4.310,18.04),(4.382,16.3),(4.424,16.1),(4.413,18.42),(4.424,19.58),(4.347,13.94),
    (4.548,13.9),(4.574,14.5),(4.668,15.44),(4.642,17.9),(4.668,17.94),(4.817,19.34),(4.838,19.34),(3.710,7.8),
    (3.852,8.4),(4.090,7.92),(4.328,7.92),
]
sasia_fit = [
    (1.646,16.3),(1.705,15.0),(1.771,13.6),(1.858,12.1),(1.945,10.7),(2.033,9.5),(2.120,8.5),(2.207,7.64),
    (2.295,6.9),(2.404,6.34),(2.513,6.14),(2.622,6.34),(2.731,6.9),(2.841,7.8),(2.928,8.8),(3.015,10.0),
    (3.103,11.4),(3.190,13.0),(3.277,14.1),(3.365,14.9),(3.463,15.46),(3.561,15.26),(3.627,15.06),(3.692,14.9),
    (3.779,14.94),(3.856,15.06),(3.932,15.6),(4.020,15.96),(4.118,16.4),(4.194,16.36),(4.303,16.2),(4.391,16.34),
    (4.500,16.6),(4.631,17.2),(4.740,17.74),(4.838,18.36),
]

titles = ["(1) Africa", "(2) Asia", "(3) Europe", "(4) Latin America & Caribbean",
          "(5) Middle East & North Africa", "(6) North America", "(7) South Asia"]
x_label = "Gov. exp. on education (% of GDP)"
y_label = "Expected years of schooling"

regions = [
    (africa_pts, africa_fit), (asia_pts, asia_fit), (europe_pts, europe_fit),
    (latam_pts, latam_fit), (mena_pts, mena_fit), (namerica_pts, namerica_fit),
    (sasia_pts, sasia_fit),
]


# ---------------------------------------------------------------
# Fonts: a narrow sans for titles / x labels, a regular sans for y
# ---------------------------------------------------------------
def pick_narrow_font():
    entries = font_manager.fontManager.ttflist
    preferred = ["Liberation Sans Narrow", "Roboto Condensed", "Arial Narrow",
                 "Open Sans Condensed", "Noto Sans Condensed"]
    for name in preferred:
        for f in entries:
            if f.name == name and f.style == "normal" and f.weight in (400, "normal", "regular"):
                return FontProperties(fname=f.fname)
    families = ["Liberation Sans", "Roboto", "Noto Sans", "Open Sans", "Lato", "DejaVu Sans"]
    for fam in families:
        for f in entries:
            base = f.fname.split("/")[-1].lower()
            if (f.name == fam and f.style == "normal" and f.weight in (400, "normal", "regular")
                    and ("condensed" in base or "narrow" in base)
                    and "semi" not in base and "extra" not in base and "ultra" not in base):
                return FontProperties(fname=f.fname)
    return FontProperties(family="Liberation Sans")


narrow_fp = pick_narrow_font()
regular_fp = FontProperties(family="Liberation Sans")

# ---------------------------------------------------------------
# Figure layout (pixel geometry of a 1158 x 1439 canvas)
# ---------------------------------------------------------------
W, H = 1158, 1439
fig = plt.figure(figsize=(W / 100, H / 100), dpi=100)
fig.patch.set_facecolor("white")
renderer = fig.canvas.get_renderer()


def size_for_width(text, fp, target_px, rotation=0):
    probe = fig.text(0, 0, text, fontproperties=fp, fontsize=10, rotation=rotation)
    bb = probe.get_window_extent(renderer)
    probe.remove()
    span = bb.height if rotation else bb.width
    return 10 * target_px / span


title_size = size_for_width(titles[3], narrow_fp, 296)
xlab_size = size_for_width(x_label, narrow_fp, 308)
ylab_size = size_for_width(y_label, regular_fp, 310, rotation=90)

col_x = [(35, 577), (607, 1150)]
row_top = [43, 402, 760, 1119]
panel_h = 276

point_color = "#86a2c4"
grid_color = "#ebebeb"

for i, (title, (pts, fit)) in enumerate(zip(titles, regions)):
    row, col = divmod(i, 2)
    x0, x1 = col_x[col]
    top = row_top[row]
    ax = fig.add_axes([x0 / W, 1 - (top + panel_h) / H, (x1 - x0) / W, panel_h / H])

    px = [p[0] for p in pts]
    py = [p[1] for p in pts]
    fx = [p[0] for p in fit]
    fy = [p[1] for p in fit]

    allx = px + fx
    ally = py + fy
    xr = max(allx) - min(allx)
    yr = max(ally) - min(ally)
    ax.set_xlim(min(allx) - 0.05 * xr, max(allx) + 0.05 * xr)
    ax.set_ylim(min(ally) - 0.05 * yr, max(ally) + 0.05 * yr)

    ax.scatter(px, py, s=14, facecolors="none", edgecolors=point_color,
               linewidths=0.7, zorder=2)
    ax.plot(fx, fy, color="#ff0000", lw=1.9, zorder=3,
            solid_joinstyle="round", solid_capstyle="round")

    ax.xaxis.set_major_locator(MultipleLocator(1))
    ax.xaxis.set_minor_locator(MultipleLocator(0.5))
    ax.xaxis.set_major_formatter(FormatStrFormatter("%d"))
    ax.grid(which="major", axis="x", color=grid_color, lw=1.0, zorder=0)
    ax.grid(which="minor", axis="x", color=grid_color, lw=0.7, zorder=0)
    ax.grid(which="both", axis="y", visible=False)
    ax.set_axisbelow(True)
    ax.set_yticks([])
    ax.tick_params(axis="x", which="both", length=0, labelsize=4.5,
                   labelcolor="#8c8c8c", pad=4)
    for s in ax.spines.values():
        s.set_visible(False)
    ax.set_facecolor("white")

    fig.text(x1 / W, 1 - (top - 11) / H, title, ha="right", va="baseline",
             fontproperties=narrow_fp, fontsize=title_size, color="black")
    fig.text((x0 + x1) / 2 / W, 1 - (top + panel_h + 35) / H, x_label,
             ha="center", va="baseline", fontproperties=narrow_fp,
             fontsize=xlab_size, color="black")
    fig.text((x0 - 13) / W, 1 - (top + panel_h / 2) / H, y_label, rotation=90,
             ha="center", va="center", fontproperties=regular_fp,
             fontsize=ylab_size, color="black")

fig.savefig("out.png", dpi=100, facecolor="white")
